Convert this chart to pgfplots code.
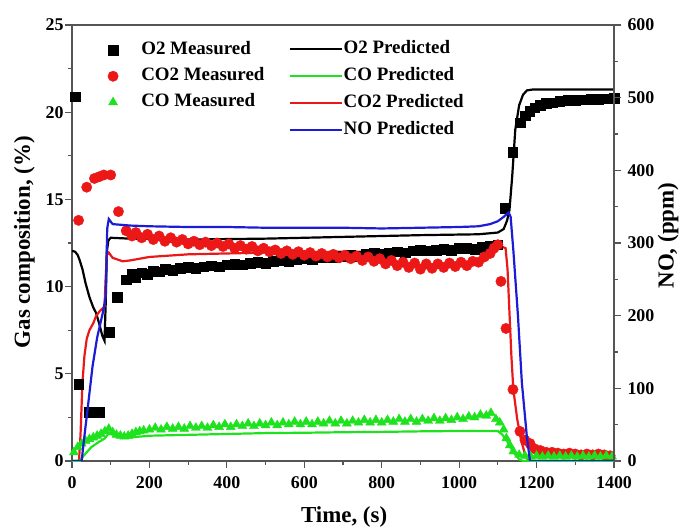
\documentclass[border=0pt]{standalone}
\usepackage{pgfplots}
\pgfplotsset{compat=1.18}
\usepackage{fontspec}
\setmainfont{Liberation Serif}

\definecolor{o2col}{RGB}{0,0,0}
\definecolor{co2col}{RGB}{236,24,24}
\definecolor{cocol}{RGB}{30,226,30}
\definecolor{nocol}{RGB}{28,28,214}
\definecolor{axcol}{RGB}{85,85,85}

\pgfplotsset{
  base/.style={
    scale only axis, width=542bp, height=436bp,
    at={(0,0)}, anchor=south west,
    xmin=0, xmax=1400,
    tick align=outside,
    major tick length=7bp, minor tick length=4bp,
    axis line style={axcol, line width=1.1bp},
    every tick/.style={axcol, line width=1.1bp},
    tick label style={font=\fontsize{18}{20}\selectfont\bfseries},
    /pgf/number format/assume math mode=true,
    /pgf/number format/set thousands separator={},
    label style={font=\fontsize{23}{25}\selectfont\bfseries},
  },
  meas/.style={only marks, mark options={solid}},
  pred/.style={line width=2.2bp, no markers},
}

\begin{document}
\begin{tikzpicture}
% ---------------- gas composition (left axis) ----------------
\begin{axis}[base,
  ymin=0, ymax=25,
  xtick={0,200,...,1400}, minor x tick num=1,
  ytick={0,5,...,25}, minor y tick num=1,
  xtick pos=bottom, ytick pos=left,
  xticklabel style={yshift=-5bp},
  yticklabel style={xshift=2bp},
  xlabel={Time, (s)},
  ylabel={Gas composition, (\%)},
  xlabel style={at={(axis description cs:0.502,-0.128)}, anchor=center},
  ylabel style={at={(axis description cs:-0.088,0.502)}, anchor=center, rotate=0},
  legend style={draw=none, fill=none, inner sep=0pt,
    at={(axis description cs:0.064,0.962)}, anchor=north west,
    font=\fontsize{19}{21}\selectfont\bfseries,
    row sep=9bp,
    nodes={inner xsep=2bp, inner ysep=0pt, text height=13bp, text depth=4bp},
    /tikz/every odd column/.style={column sep=20bp}},
  legend cell align=left,
  legend image code/.code={\path (-6bp,0bp) (6bp,0bp);\draw[#1] plot coordinates {(0bp,0bp)};},
]
% O2 measured
\addplot[meas, mark=square*, mark size=4.8bp, color=o2col] coordinates {
(9,20.9) (17,4.4) (43,2.8) (57,2.8) (70,2.8) (97,7.4) (117,9.4) (140,10.4)
(155,10.7) (165,10.5) (180,10.8) (195,10.7) (210,10.9) (225,10.85) (240,11.0)
(260,10.95) (280,11.05) (300,11.1) (320,11.05) (340,11.15) (360,11.2) (380,11.15)
(400,11.25) (420,11.3) (440,11.25) (460,11.35) (480,11.4) (500,11.35) (520,11.45)
(540,11.5) (560,11.45) (580,11.55) (600,11.6) (620,11.55) (640,11.65) (660,11.7)
(680,11.65) (700,11.75) (720,11.8) (740,11.75) (760,11.85) (780,11.9) (800,11.85)
(820,11.95) (840,12.0) (860,11.95) (880,12.05) (900,12.1) (920,12.05) (940,12.1)
(960,12.15) (980,12.1) (1000,12.2) (1020,12.2) (1040,12.15) (1060,12.25) (1080,12.3)
(1100,12.4) (1118,14.5) (1138,17.7) (1157,19.4) (1170,19.8) (1182,20.05) (1195,20.25)
(1210,20.4) (1225,20.5) (1240,20.55) (1260,20.62) (1280,20.68) (1300,20.7) (1320,20.72)
(1340,20.75) (1360,20.76) (1380,20.78) (1400,20.8)
};
\addlegendentry{O2 Measured}
% CO2 measured
\addplot[meas, mark=*, mark size=5.2bp, color=co2col] coordinates {
(17,13.8) (38,15.7) (58,16.2) (70,16.3) (82,16.4) (100,16.4) (120,14.3) (140,13.2)
(155,12.9) (165,13.1) (180,12.8) (195,13.0) (210,12.7) (225,12.9) (240,12.6) (255,12.8)
(270,12.55) (285,12.7) (300,12.45) (315,12.6) (330,12.4) (345,12.55) (360,12.35)
(375,12.5) (390,12.3) (405,12.45) (420,12.2) (435,12.35) (450,12.15) (465,12.3)
(480,12.05) (495,12.2) (510,12.0) (525,12.1) (540,11.9) (555,12.05) (570,11.85)
(585,12.0) (600,11.8) (615,11.95) (630,11.75) (645,11.9) (660,11.7) (675,11.85)
(690,11.65) (705,11.8) (720,11.6) (735,11.75) (750,11.5) (765,11.7) (780,11.45)
(795,11.6) (810,11.3) (825,11.5) (840,11.2) (855,11.4) (870,11.1) (885,11.35)
(900,11.0) (915,11.3) (930,11.05) (945,11.3) (960,11.1) (975,11.35) (990,11.15)
(1005,11.4) (1020,11.2) (1035,11.45) (1050,11.4) (1065,11.7) (1080,11.9) (1090,12.2)
(1100,12.4) (1108,10.3) (1121,7.6) (1139,4.1) (1157,1.7) (1170,1.2) (1183,1.0)
(1195,0.7) (1210,0.6) (1225,0.5) (1240,0.5) (1255,0.45) (1270,0.4) (1285,0.45)
(1300,0.4) (1315,0.35) (1330,0.4) (1345,0.35) (1360,0.4) (1375,0.35) (1390,0.3)
};
\addlegendentry{CO2 Measured}
% CO measured
\addplot[meas, mark=triangle*, mark size=5.2bp, color=cocol] coordinates {
(5,0.5) (15,0.8) (25,1.0) (35,1.15) (45,1.25) (55,1.35) (65,1.45) (75,1.55)
(85,1.7) (95,1.85) (105,1.65) (115,1.5) (125,1.45) (135,1.4) (145,1.45) (155,1.55)
(165,1.65) (175,1.7) (185,1.75) (200,1.8) (215,1.9) (230,1.8) (245,1.95) (260,1.85)
(275,1.95) (290,1.85) (305,2.0) (320,1.9) (335,2.0) (350,1.9) (365,2.05) (380,1.95)
(395,2.1) (410,1.95) (425,2.1) (440,2.0) (455,2.15) (470,2.0) (485,2.15) (500,2.05)
(515,2.2) (530,2.05) (545,2.2) (560,2.1) (575,2.25) (590,2.1) (605,2.25) (620,2.1)
(635,2.25) (650,2.15) (665,2.3) (680,2.15) (695,2.3) (710,2.15) (725,2.3) (740,2.2)
(755,2.35) (770,2.2) (785,2.35) (800,2.2) (815,2.35) (830,2.25) (845,2.4) (860,2.25)
(875,2.4) (890,2.25) (905,2.4) (920,2.3) (935,2.45) (950,2.3) (965,2.45) (980,2.35)
(995,2.5) (1010,2.4) (1025,2.55) (1040,2.5) (1055,2.65) (1070,2.6) (1082,2.75)
(1095,2.4) (1105,2.2) (1115,1.8) (1122,1.3) (1131,0.9) (1140,0.55) (1155,0.35)
(1170,0.3) (1185,0.25) (1200,0.3) (1215,0.25) (1230,0.3) (1245,0.25) (1260,0.3)
(1275,0.25) (1290,0.3) (1305,0.25) (1320,0.3) (1335,0.25) (1350,0.3) (1365,0.25)
(1380,0.3) (1395,0.25)
};
\addlegendentry{CO Measured}
% O2 predicted
\addplot[pred, color=o2col, forget plot] coordinates {
(0,12.05) (8,12.0) (15,11.8) (20,11.5) (27,11.0) (35,10.2) (45,9.4) (55,8.8)
(62,8.5) (70,7.9) (78,7.2) (84,6.9) (87,9.0) (90,12.0) (94,12.65) (100,12.8)
(150,12.75) (300,12.7) (500,12.75) (700,12.85) (900,12.95) (1050,13.0) (1100,13.1)
(1115,13.3) (1124,13.8) (1130,14.4) (1137,16.3) (1145,19.0) (1155,20.4) (1165,21.0)
(1175,21.25) (1190,21.3) (1300,21.3) (1400,21.3)
};
% CO2 predicted
\addplot[pred, color=co2col, forget plot] coordinates {
(0,0) (18,0) (22,1.5) (27,4.5) (32,6.0) (38,7.0) (45,7.5) (55,7.9) (62,8.3)
(72,8.6) (84,8.85) (87,10.5) (90,11.8) (95,11.95) (105,11.65) (131,11.45) (150,11.5)
(200,11.7) (300,11.85) (400,11.9) (500,11.95) (600,11.95) (700,12.0) (800,12.0)
(900,12.05) (1000,12.1) (1080,12.2) (1110,12.3) (1120,12.2) (1125,11.0) (1130,8.5)
(1135,6.0) (1140,4.1) (1150,2.4) (1160,1.2) (1170,0.4) (1180,0) (1400,0)
};
% CO predicted
\addplot[pred, color=cocol, forget plot] coordinates {
(0,0) (20,0) (30,0.3) (50,0.8) (70,1.1) (85,1.3) (95,1.6) (100,1.55) (120,1.4)
(150,1.35) (200,1.45) (300,1.5) (400,1.55) (500,1.6) (600,1.62) (700,1.65)
(800,1.67) (900,1.7) (1000,1.72) (1100,1.72) (1112,1.5) (1125,1.1) (1140,0.5)
(1155,0.1) (1165,0) (1400,0)
};
\end{axis}
% ---------------- NO (right axis) ----------------
\begin{axis}[base,
  ymin=0, ymax=600,
  axis y line*=right, axis x line=none,
  ytick={0,100,...,600}, minor y tick num=1,
  yticklabel style={xshift=3bp},
  ylabel={NO, (ppm)},
  ylabel style={at={(axis description cs:1.10,0.517)}, anchor=center, rotate=0},
  legend style={draw=none, fill=none, inner sep=0pt,
    at={(axis description cs:0.399,0.965)}, anchor=north west,
    font=\fontsize{19}{21}\selectfont\bfseries,
    row sep=10bp,
    nodes={inner xsep=1bp, inner ysep=0pt, text height=13bp, text depth=4bp},
    /tikz/every odd column/.style={column sep=0bp}},
  legend cell align=left,
  legend image code/.code={\draw[#1] (0bp,0bp) -- (52bp,0bp);},
]
\addlegendimage{pred, color=o2col}
\addlegendentry{O2 Predicted}
\addlegendimage{pred, color=cocol}
\addlegendentry{CO Predicted}
\addlegendimage{pred, color=co2col}
\addlegendentry{CO2 Predicted}
\addplot[pred, color=nocol] coordinates {
(0,0) (25,0) (30,25) (40,70) (53,130) (65,170) (80,205) (87,226) (91,320) (95,333)
(105,326) (150,324) (200,323) (300,322) (400,322) (500,321) (600,321) (700,321)
(800,320) (900,321) (1000,322) (1050,323) (1080,326) (1100,330) (1115,336)
(1128,342) (1133,336) (1140,290) (1152,199) (1162,108) (1175,33) (1183,0) (1400,0)
};
\addlegendentry{NO Predicted}
\end{axis}
\pgfresetboundingbox
\path[use as bounding box] (-72bp,-67bp) rectangle (612bp,461bp);
\end{tikzpicture}
\end{document}
